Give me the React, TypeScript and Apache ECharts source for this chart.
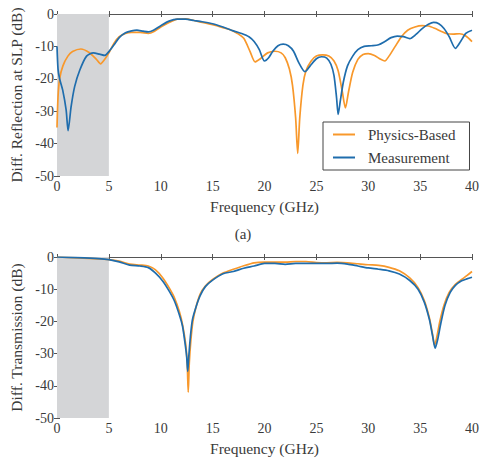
import React, { useEffect, useRef } from "react";
import * as echarts from "echarts";

// Top panel: differential reflection at SLP (dB)
const reflPhysFreq = [0, 0.1, 0.25, 0.57, 1.05, 1.5, 2.3, 3.1, 3.8, 4.2, 4.6, 5.0, 5.5, 6.0, 6.6, 7.2, 8.0, 8.8, 9.4, 10.0, 10.8, 11.6, 12.4, 13.2, 14.0, 15.0, 16.0, 16.8, 17.4, 18.0, 18.6, 19.1, 19.6, 20.3, 21.0, 21.6, 22.0, 22.4, 22.7, 23.0, 23.2, 23.4, 23.7, 24.0, 24.5, 25.0, 25.6, 26.2, 26.7, 27.1, 27.5, 27.8, 28.1, 28.5, 29.0, 29.5, 30.0, 30.6, 31.2, 31.6, 32.0, 32.6, 33.2, 33.8, 34.5, 35.2, 35.8, 36.4, 37.0, 37.6, 38.2, 38.8, 39.4, 40.0];
const reflPhysVal = [-35, -25.5, -20, -16, -13, -11.6, -10.8, -11.9, -14, -15.4, -14, -12, -9, -7, -6, -5.7, -5.7, -6, -5.3, -4, -2.6, -1.6, -1.5, -2.0, -2.6, -3.3, -4.2, -5, -6, -7.5, -11.5, -14.8, -13.8, -12, -11.5, -12, -13.5, -17, -22, -32, -43, -32, -22, -17.5, -14.5, -13, -12.6, -13, -14.5, -17.5, -24, -29, -24, -18, -14, -12.5, -12.2, -12.8, -14, -14.5, -13, -10, -7, -5, -4, -3.6, -3.7, -4.4, -5.3, -6.1, -6.2, -6.1, -6.8, -8.5];
const reflMeasFreq = [0, 0.1, 0.25, 0.55, 0.88, 1.07, 1.36, 1.7, 2.2, 2.85, 3.5, 4.1, 4.6, 5.0, 5.5, 6.0, 6.6, 7.2, 7.7, 8.3, 8.8, 9.3, 10.0, 10.8, 11.6, 12.4, 13.2, 14.0, 15.0, 16.0, 17.0, 17.8, 18.5, 19.0, 19.5, 20.0, 20.4, 20.8, 21.3, 21.8, 22.3, 22.8, 23.3, 23.9, 24.4, 25.0, 25.5, 26.0, 26.4, 26.7, 26.95, 27.1, 27.3, 27.6, 28.0, 28.5, 29.0, 29.6, 30.3, 31.0, 31.6, 32.2, 32.8, 33.4, 34.0, 34.6, 35.2, 35.8, 36.3, 36.8, 37.3, 37.8, 38.4, 38.9, 39.4, 40.0];
const reflMeasVal = [-10, -17, -20, -23.5, -29.6, -36, -28.6, -22.4, -17.3, -13, -12, -12.4, -12.8, -11.6, -9.5, -7.3, -5.8, -5.2, -5, -5.3, -5.5, -5, -3.6, -2.2, -1.6, -1.6, -2, -2.4, -3, -4, -5.2, -6, -7, -8.5, -11, -14.5, -13.5, -11.5, -9.8, -9.3, -9.8, -11.5, -15, -17.8, -16, -13.8, -13.2, -13.6, -15.5, -19, -26, -31, -27, -21, -16, -13, -11, -10, -9.8, -9.5, -8.5, -7.3, -6.8, -7, -7.6, -6.3, -4.5, -3.2, -2.6, -3, -4.5, -7, -10.6, -8.5, -6, -5];

// Bottom panel: differential transmission (dB)
const transPhysFreq = [0, 2, 4, 5, 6, 7, 8, 8.8, 9.5, 10.2, 10.8, 11.3, 11.8, 12.1, 12.4, 12.55, 12.65, 12.75, 12.9, 13.1, 13.4, 13.8, 14.3, 15, 16, 17, 18, 19, 20, 21, 22, 23, 24, 25, 26, 27, 28, 29, 30, 31, 32, 33, 34, 34.8, 35.4, 35.9, 36.2, 36.4, 36.6, 36.9, 37.3, 37.8, 38.4, 39, 39.5, 40];
const transPhysVal = [0, -0.3, -0.6, -0.8, -1.3, -2.2, -2.5, -2.8, -4, -6.5, -9.5, -12.5, -17, -21, -27, -33, -42, -33, -26, -20, -15.5, -11.5, -9, -7, -5, -3.8, -2.7, -1.8, -1.6, -1.6, -1.6, -1.4, -1.4, -1.7, -1.8, -1.7, -1.8, -2.1, -2.4, -2.6, -3.2, -4.3, -6.5, -9.5, -13.5, -19, -24, -27.5, -25, -20, -15, -11, -8.5, -7, -5.8, -4.5];
const transMeasFreq = [0, 2, 4, 5, 6, 7, 8, 8.8, 9.5, 10.2, 10.8, 11.3, 11.8, 12.1, 12.35, 12.5, 12.6, 12.7, 12.85, 13.05, 13.4, 13.8, 14.3, 15, 16, 17, 18, 19, 20, 21, 22, 23, 24, 25, 26, 27, 28, 29, 30, 31, 32, 33, 34, 34.8, 35.4, 35.9, 36.2, 36.45, 36.7, 37.0, 37.4, 37.9, 38.4, 39, 39.5, 40];
const transMeasVal = [0, -0.2, -0.5, -0.8, -1.5, -2.5, -2.8, -3.3, -5, -7.5, -10.5, -13.5, -18, -21.5, -27, -31, -35.5, -31, -25, -19.5, -15.5, -12, -9.2, -7.2, -5.2, -4.5, -3.5, -2.8, -2, -2, -2.3, -2, -2, -2, -2, -1.9, -2.2, -2.8, -3.4, -3.8, -4.3, -5.3, -7.3, -10, -14, -19.5, -24.5, -28.3, -25.5, -20.5, -15, -11, -8.8, -7.4, -6.8, -6.3];

const xTicks = [0, 5, 10, 15, 20, 25, 30, 35, 40];
const yTicks = [0, -10, -20, -30, -40, -50];
const shadedBand = [0, 5];
const seriesNames = ["Physics-Based", "Measurement"];

const ORANGE = "#f8982b";
const BLUE = "#1f6dad";
const FONT = "Liberation Serif";
const AXIS_COLOR = "#555555";
const TEXT_COLOR = "#3a3a3a";

const zip = (xs: number[], ys: number[]) => xs.map((x, i) => [x, ys[i]]);

export default function App() {
  const ref = useRef<HTMLDivElement>(null);
  useEffect(() => {
    document.body.style.margin = "0";
    const chart = echarts.init(ref.current!, null, { renderer: "svg" });
    const grids = [
      { left: 57, right: 14, top: 14, height: 162 },
      { left: 57, right: 14, top: 257, height: 161 },
    ];
    const xAxes: any[] = [];
    const yAxes: any[] = [];
    const yNames = ["Diff. Reflection at SLP (dB)", "Diff. Transmission (dB)"];
    grids.forEach((_, gi) => {
      xAxes.push({
        type: "value", gridIndex: gi, min: xTicks[0], max: xTicks[xTicks.length - 1], interval: 5,
        position: "bottom",
        name: "Frequency (GHz)", nameLocation: "middle", nameGap: 22,
        nameTextStyle: { fontFamily: FONT, fontSize: 15.5, color: TEXT_COLOR },
        axisLine: { show: true, lineStyle: { color: AXIS_COLOR, width: 1 } },
        axisTick: { show: true, inside: true, length: 3, lineStyle: { color: AXIS_COLOR } },
        axisLabel: { fontFamily: FONT, fontSize: 14, color: TEXT_COLOR, margin: 3 },
        splitLine: { show: false },
      });
      xAxes.push({
        type: "value", gridIndex: gi, min: 0, max: 40, interval: 5, position: "top",
        axisLine: { show: true, lineStyle: { color: AXIS_COLOR, width: 1 } },
        axisTick: { show: true, inside: true, length: 3, lineStyle: { color: AXIS_COLOR } },
        axisLabel: { show: false }, splitLine: { show: false },
      });
      yAxes.push({
        type: "value", gridIndex: gi, min: yTicks[yTicks.length - 1], max: yTicks[0], interval: 10,
        position: "left",
        name: yNames[gi], nameLocation: "middle", nameGap: 33,
        nameTextStyle: { fontFamily: FONT, fontSize: 15.5, color: TEXT_COLOR },
        axisLine: { show: true, lineStyle: { color: AXIS_COLOR, width: 1 } },
        axisTick: { show: true, inside: true, length: 3, lineStyle: { color: AXIS_COLOR } },
        axisLabel: { fontFamily: FONT, fontSize: 14, color: TEXT_COLOR, margin: 3 },
        splitLine: { show: false },
      });
      yAxes.push({
        type: "value", gridIndex: gi, min: -50, max: 0, interval: 10, position: "right",
        axisLine: { show: true, lineStyle: { color: AXIS_COLOR, width: 1 } },
        axisTick: { show: true, inside: true, length: 3, lineStyle: { color: AXIS_COLOR } },
        axisLabel: { show: false }, splitLine: { show: false },
      });
    });

    const mkLine = (name: string, color: string, xi: number, yi: number, data: number[][], band: boolean) => ({
      type: "line", name, xAxisIndex: xi, yAxisIndex: yi, data,
      showSymbol: false, smooth: 0.25, clip: true,
      lineStyle: { color, width: 1.7 }, itemStyle: { color },
      z: color === BLUE ? 3 : 2,
      markArea: band ? {
        silent: true,
        itemStyle: { color: "#d4d5d7" },
        data: [[{ xAxis: shadedBand[0] }, { xAxis: shadedBand[1] }]],
      } : undefined,
    });

    chart.setOption({
      animation: false,
      grid: grids,
      xAxis: xAxes,
      yAxis: yAxes,
      legend: {
        data: seriesNames,
        orient: "vertical",
        left: 323, top: 122, width: 149,
        backgroundColor: "#ffffff",
        borderColor: "#444444", borderWidth: 1, borderRadius: 0,
        padding: [5, 14, 5, 10],
        itemWidth: 22, itemHeight: 2, itemGap: 8,
        icon: "rect",
        textStyle: { fontFamily: FONT, fontSize: 15, color: TEXT_COLOR, padding: [0, 0, 0, 8] },
      },
      graphic: [
        { type: "text", left: "center", top: 226, style: { text: "(a)", fontFamily: FONT, fontSize: 15, fill: TEXT_COLOR } },
      ],
      series: [
        mkLine(seriesNames[0], ORANGE, 0, 0, zip(reflPhysFreq, reflPhysVal), true),
        mkLine(seriesNames[1], BLUE, 0, 0, zip(reflMeasFreq, reflMeasVal), false),
        mkLine(seriesNames[0], ORANGE, 2, 2, zip(transPhysFreq, transPhysVal), true),
        mkLine(seriesNames[1], BLUE, 2, 2, zip(transMeasFreq, transMeasVal), false),
      ],
    });
    return () => chart.dispose();
  }, []);
  return <div ref={ref} style={{ width: 486, height: 460 }} />;
}
